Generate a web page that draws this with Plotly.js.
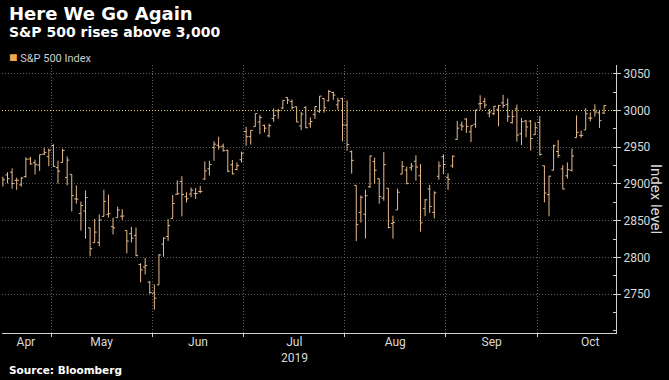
<!DOCTYPE html>
<html>
<head>
<meta charset="utf-8">
<script src="https://cdn.plot.ly/plotly-3.0.1.min.js"></script>
<style>
html,body{margin:0;padding:0;background:#000;}
#chart{width:669px;height:380px;}
</style>
</head>
<body>
<div id="chart"></div>
<script>
// Trading days shown (S&P 500 Index, daily OHLC)
const dates = [
"2019-04-15","2019-04-16","2019-04-17","2019-04-18","2019-04-22","2019-04-23","2019-04-24","2019-04-25","2019-04-26","2019-04-29","2019-04-30",
"2019-05-01","2019-05-02","2019-05-03","2019-05-06","2019-05-07","2019-05-08","2019-05-09","2019-05-10","2019-05-13","2019-05-14","2019-05-15","2019-05-16","2019-05-17","2019-05-20","2019-05-21","2019-05-22","2019-05-23","2019-05-24","2019-05-28","2019-05-29","2019-05-30","2019-05-31",
"2019-06-03","2019-06-04","2019-06-05","2019-06-06","2019-06-07","2019-06-10","2019-06-11","2019-06-12","2019-06-13","2019-06-14","2019-06-17","2019-06-18","2019-06-19","2019-06-20","2019-06-21","2019-06-24","2019-06-25","2019-06-26","2019-06-27","2019-06-28",
"2019-07-01","2019-07-02","2019-07-03","2019-07-05","2019-07-08","2019-07-09","2019-07-10","2019-07-11","2019-07-12","2019-07-15","2019-07-16","2019-07-17","2019-07-18","2019-07-19","2019-07-22","2019-07-23","2019-07-24","2019-07-25","2019-07-26","2019-07-29","2019-07-30","2019-07-31",
"2019-08-01","2019-08-02","2019-08-05","2019-08-06","2019-08-07","2019-08-08","2019-08-09","2019-08-12","2019-08-13","2019-08-14","2019-08-15","2019-08-16","2019-08-19","2019-08-20","2019-08-21","2019-08-22","2019-08-23","2019-08-26","2019-08-27","2019-08-28","2019-08-29","2019-08-30",
"2019-09-03","2019-09-04","2019-09-05","2019-09-06","2019-09-09","2019-09-10","2019-09-11","2019-09-12","2019-09-13","2019-09-16","2019-09-17","2019-09-18","2019-09-19","2019-09-20","2019-09-23","2019-09-24","2019-09-25","2019-09-26","2019-09-27","2019-09-30",
"2019-10-01","2019-10-02","2019-10-03","2019-10-04","2019-10-07","2019-10-08","2019-10-09","2019-10-10","2019-10-11","2019-10-14","2019-10-15","2019-10-16","2019-10-17","2019-10-18","2019-10-21"
];
const openV = [
2908.3,2912.3,2916.0,2904.8,2898.8,2910.0,2934.0,2929.0,2925.8,2940.6,2937.1,
2952.3,2922.2,2929.2,2908.9,2913.0,2879.6,2859.8,2863.1,2840.2,2820.1,2820.4,2855.8,2858.6,2841.9,2854.0,2856.1,2836.7,2832.4,2830.0,2790.3,2786.9,2766.2,
2751.5,2762.6,2818.1,2828.5,2852.9,2885.8,2903.3,2882.7,2886.2,2886.8,2889.8,2906.7,2920.6,2949.6,2952.7,2951.4,2945.8,2926.1,2919.7,2932.9,
2971.4,2964.7,2978.1,2984.3,2979.8,2965.5,2989.3,2999.6,3003.4,3017.8,3012.1,3005.1,2978.9,3004.3,2981.9,2994.7,2998.8,3016.3,3013.3,3024.5,3007.7,3016.2,
2980.3,2943.9,2898.1,2861.2,2858.7,2896.2,2930.5,2907.1,2880.7,2894.2,2846.2,2864.7,2913.5,2919.0,2922.0,2930.9,2911.1,2866.7,2893.1,2861.3,2910.4,2937.1,
2909.0,2924.7,2960.6,2980.3,2988.4,2971.0,2981.4,3009.1,3012.2,2996.4,2995.7,3001.5,3010.4,3008.4,2983.5,3002.4,2968.4,2985.7,2985.5,2967.1,
2983.7,2924.8,2885.4,2918.6,2944.2,2920.4,2911.1,2918.6,2963.1,2965.8,2973.6,2989.7,3000.8,2996.8,2996.5
];
const highV = [
2909.6,2916.1,2921.2,2908.4,2909.5,2936.3,2936.8,2933.1,2939.9,2949.5,2948.2,
2954.1,2931.7,2947.9,2937.3,2913.0,2898.0,2876.0,2891.3,2840.2,2852.5,2858.7,2892.2,2885.5,2853.9,2868.9,2865.5,2836.7,2841.4,2840.5,2792.0,2799.0,2768.0,
2763.1,2804.5,2827.3,2852.1,2885.0,2904.8,2910.6,2888.6,2895.2,2894.5,2897.3,2930.8,2931.7,2958.1,2964.2,2954.9,2946.5,2932.6,2929.3,2944.0,
2977.9,2973.2,2995.8,2994.0,2980.8,2981.9,3003.0,3002.3,3013.9,3017.8,3015.0,3005.3,2998.3,3006.0,2990.7,3005.9,3019.6,3016.3,3028.0,3025.6,3017.2,3017.4,
3013.6,2945.5,2898.1,2884.4,2892.2,2938.7,2935.8,2907.6,2943.3,2894.2,2856.7,2893.6,2931.0,2923.6,2928.7,2939.1,2927.0,2879.3,2898.8,2890.0,2930.5,2940.4,
2914.4,2938.8,2985.9,2985.0,2989.4,2979.4,3000.9,3020.7,3017.3,3002.2,3006.2,3007.8,3021.4,3016.4,2999.2,3008.0,2989.8,2987.3,2987.3,2983.8,
2992.5,2924.8,2911.1,2953.7,2959.8,2925.5,2929.3,2948.5,2993.3,2972.8,3003.3,2997.5,3008.3,3000.0,3007.3
];
const lowV = [
2896.5,2900.7,2893.5,2891.9,2896.4,2908.5,2926.1,2912.8,2917.6,2939.4,2924.1,
2923.4,2900.5,2929.2,2898.2,2862.6,2873.3,2836.4,2825.4,2801.4,2820.1,2815.1,2855.8,2854.2,2831.3,2854.0,2851.1,2805.5,2820.2,2801.6,2766.1,2776.7,2750.5,
2728.8,2762.6,2800.9,2822.5,2852.9,2885.5,2855.9,2874.7,2882.0,2879.6,2887.3,2905.4,2911.4,2931.5,2946.9,2944.1,2916.0,2913.0,2918.6,2929.0,
2952.2,2953.7,2978.0,2968.0,2970.1,2963.4,2984.6,2988.8,3001.9,3008.8,3001.2,2984.3,2973.1,2975.9,2976.7,2988.6,2996.8,2997.2,3012.6,3014.3,3000.9,2958.1,
2945.2,2914.1,2822.1,2847.4,2825.7,2894.5,2900.2,2873.1,2877.1,2839.6,2825.5,2864.7,2913.5,2899.6,2917.9,2904.5,2835.0,2856.0,2860.6,2853.1,2905.7,2913.3,
2891.9,2921.9,2960.6,2972.5,2969.4,2957.0,2976.3,3000.9,3002.9,2990.7,2993.7,2978.6,3003.2,2984.7,2982.2,2957.7,2952.9,2963.7,2945.5,2967.1,
2938.7,2874.9,2855.9,2918.6,2935.7,2892.7,2907.4,2917.1,2963.1,2962.9,2973.6,2985.2,2991.8,2976.3,2995.4
];
const closeV = [
2905.6,2907.1,2900.5,2905.0,2908.0,2933.7,2927.3,2926.2,2939.9,2943.0,2945.8,
2923.7,2917.5,2945.6,2932.5,2884.1,2879.4,2870.7,2881.4,2811.9,2834.4,2851.0,2876.3,2859.5,2840.2,2864.4,2856.3,2822.2,2826.1,2802.4,2783.0,2788.9,2752.1,
2744.5,2803.3,2826.2,2843.5,2873.3,2886.7,2885.7,2879.8,2891.6,2887.0,2889.7,2917.8,2926.5,2954.2,2950.5,2945.4,2917.4,2913.8,2924.9,2941.8,
2964.3,2973.0,2995.8,2990.4,2976.0,2979.6,2993.1,2999.9,3013.8,3014.3,3004.0,2984.4,2995.1,2976.6,2985.0,3005.5,3019.6,3003.7,3025.9,3021.0,3013.2,2980.4,
2953.6,2932.1,2844.7,2881.8,2884.0,2938.1,2918.7,2882.7,2926.3,2840.6,2847.6,2888.7,2923.7,2900.5,2924.4,2923.0,2847.1,2878.4,2869.2,2887.9,2924.6,2926.5,
2906.3,2937.8,2976.0,2978.7,2978.4,2979.4,3000.9,3009.6,3007.4,2998.0,3005.7,3006.7,3006.8,2992.1,2991.8,2966.6,2984.9,2977.6,2961.8,2976.7,
2940.3,2887.6,2910.6,2952.0,2938.8,2893.1,2919.4,2938.1,2970.3,2966.2,2995.7,2989.7,2998.0,2986.2,3006.7
];
const monthNames = ["Apr","May","Jun","Jul","Aug","Sep","Oct"];
const monthLabelPos = [5, 21.5, 42.5, 63.5, 85.5, 106.5, 128];
const yearLabel = "2019";
const yTicks = [2750, 2800, 2850, 2900, 2950, 3000, 3050];
const refLevel = 3000;

const xIdx = dates.map((d, i) => i);
// month boundaries (gridlines) where the month changes
const boundaries = [];
for (let i = 1; i < dates.length; i++) {
  if (dates[i].slice(5, 7) !== dates[i - 1].slice(5, 7)) boundaries.push(i - 0.5);
}

const barColor = '#e8bb8c';
const gridCol = '#5e5e5e';
const axisFont = {family: 'Liberation Sans Narrow, Roboto, sans-serif', size: 12, color: '#d9d9d9'};

const trace = {
  type: 'ohlc',
  x: xIdx, open: openV, high: highV, low: lowV, close: closeV,
  increasing: {line: {color: barColor, width: 1}},
  decreasing: {line: {color: barColor, width: 1}},
  tickwidth: 0.45,
  hoverinfo: 'skip',
  showlegend: false,
  xaxis: 'x', yaxis: 'y'
};
// invisible helper trace so the label axis is drawn
const labelTrace = {
  type: 'scatter', x: [monthLabelPos[0]], y: [yTicks[0]], mode: 'markers',
  marker: {opacity: 0}, hoverinfo: 'skip', showlegend: false, xaxis: 'x2', yaxis: 'y'
};

const xRange = [-0.2, 133.6];
const layout = {
  width: 669, height: 380,
  paper_bgcolor: '#000', plot_bgcolor: '#000',
  margin: {l: 2, r: 53, t: 65, b: 47},
  showlegend: false,
  xaxis: {
    type: 'linear', range: xRange, fixedrange: true,
    tickmode: 'array', tickvals: boundaries, ticktext: boundaries.map(() => ''),
    showgrid: true, gridcolor: gridCol, griddash: '1px,2px', gridwidth: 1,
    showline: true, linecolor: '#cfcfcf', linewidth: 1,
    ticks: 'outside', ticklen: 3, tickcolor: '#cfcfcf',
    zeroline: false,
    rangeslider: {visible: false}
  },
  xaxis2: {
    type: 'linear', range: xRange, overlaying: 'x', anchor: 'y', side: 'bottom',
    tickmode: 'array', tickvals: monthLabelPos, ticktext: monthNames,
    showgrid: false, showline: false, ticks: '', zeroline: false,
    tickfont: axisFont, fixedrange: true
  },
  yaxis: {
    side: 'right', range: [2697, 3062], fixedrange: true,
    tickmode: 'array', tickvals: yTicks,
    showgrid: true, gridcolor: gridCol, griddash: '1px,2px', gridwidth: 1,
    showline: true, linecolor: '#cfcfcf', linewidth: 1,
    ticks: 'outside', ticklen: 4, tickcolor: '#cfcfcf',
    minor: {ticks: 'inside', ticklen: 3, dtick: 25, tickcolor: '#cfcfcf', showgrid: false},
    tickfont: axisFont, zeroline: false
  },
  shapes: [{
    type: 'line', xref: 'paper', x0: 0, x1: 1, yref: 'y', y0: refLevel, y1: refLevel,
    line: {color: '#e8d44d', width: 1, dash: '1px,2px'}
  }],
  annotations: [
    {text: '<b>Here We Go Again</b>', xref: 'paper', yref: 'paper', x: 0, y: 1, xanchor: 'left', yanchor: 'top',
     xshift: 5, yshift: 64, showarrow: false, font: {family: 'DejaVu Sans, sans-serif', size: 18, color: '#ffffff'}},
    {text: '<b>S&P 500 rises above 3,000</b>', xref: 'paper', yref: 'paper', x: 0, y: 1, xanchor: 'left', yanchor: 'top',
     xshift: 5, yshift: 43, showarrow: false, font: {family: 'DejaVu Sans, sans-serif', size: 14, color: '#ffffff'}},
    {text: '<span style="color:#f2a54e;font-size:14px">■</span> S&P 500 Index', xref: 'paper', yref: 'paper', x: 0, y: 1, xanchor: 'left', yanchor: 'top',
     xshift: 5, yshift: 18, showarrow: false, font: {family: 'Liberation Sans Narrow, Roboto, sans-serif', size: 11, color: '#cccccc'}},
    {text: yearLabel, xref: 'x', yref: 'paper', x: monthLabelPos[3], y: 0, xanchor: 'center', yanchor: 'top',
     yshift: -16, showarrow: false, font: axisFont},
    {text: '<b>Source: Bloomberg</b>', xref: 'paper', yref: 'paper', x: 0, y: 0, xanchor: 'left', yanchor: 'top',
     xshift: 5, yshift: -29, showarrow: false, font: {family: 'DejaVu Sans, sans-serif', size: 10.5, color: '#ffffff'}},
    {text: 'Index level', xref: 'paper', yref: 'paper', x: 1, y: 0.5, xanchor: 'center', yanchor: 'middle',
     xshift: 40, yshift: 0, textangle: 90, showarrow: false, font: {family: 'Liberation Sans Narrow, Roboto, sans-serif', size: 15, color: '#d9d9d9'}}
  ]
};

Plotly.newPlot('chart', [trace, labelTrace], layout, {staticPlot: true, displayModeBar: false});
</script>
</body>
</html>
